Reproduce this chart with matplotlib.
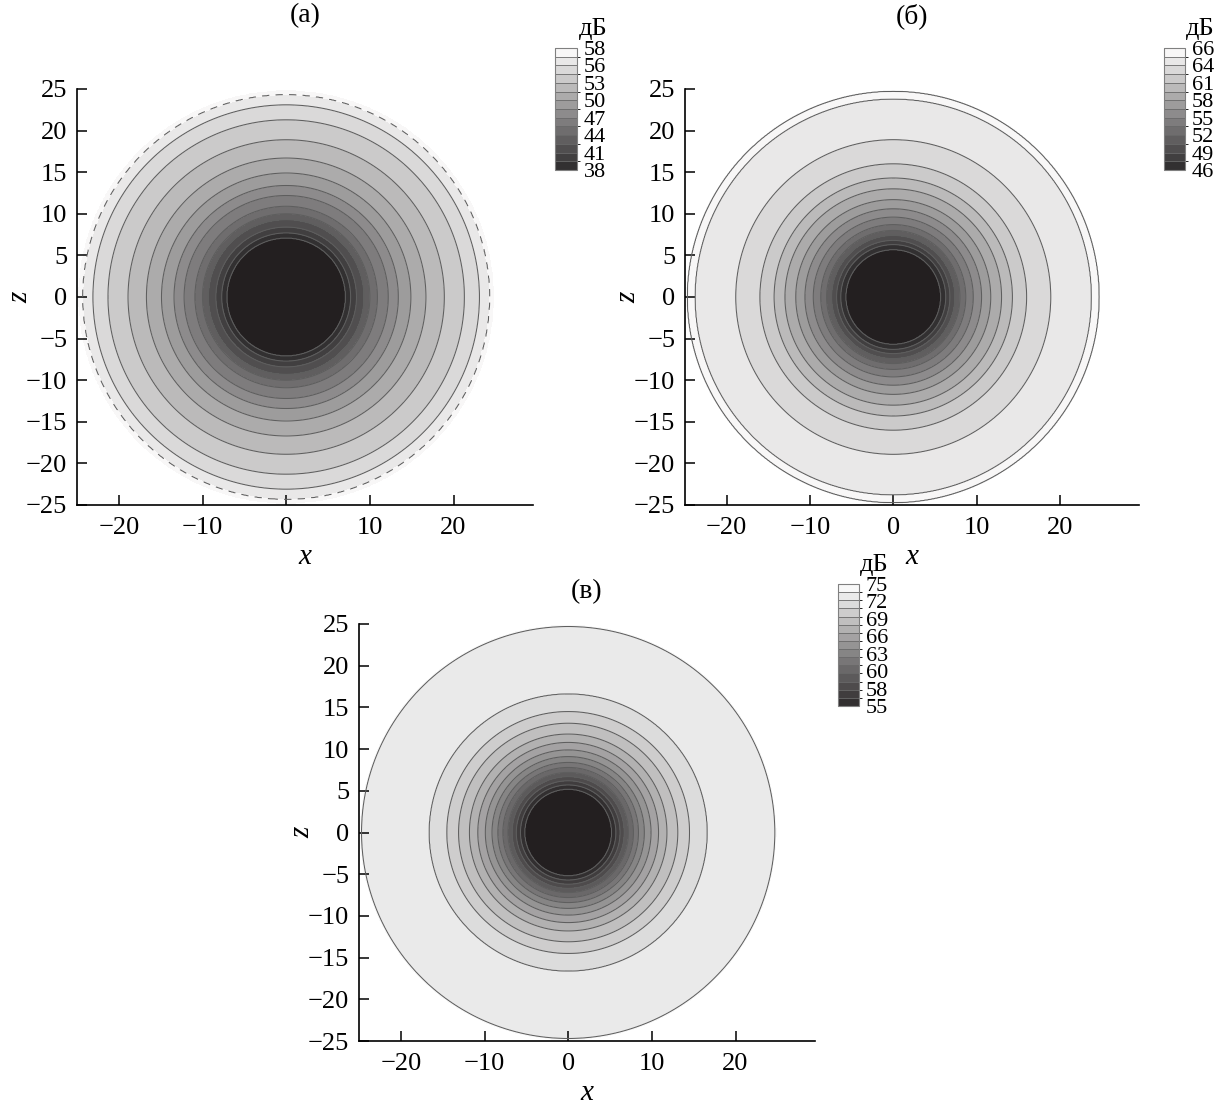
import numpy as np
import matplotlib
matplotlib.use("Agg")
import matplotlib.pyplot as plt
from matplotlib.colors import LinearSegmentedColormap, ListedColormap, BoundaryNorm
from matplotlib.cm import ScalarMappable

plt.rcParams["font.family"] = ["Liberation Serif", "DejaVu Serif"]

# radius at which each contour level is crossed, centre outward
radii_a = [7.1, 7.7, 8.4, 9.3, 10.0, 10.9, 12.2, 13.4, 14.9, 16.7, 18.9, 21.3, 23.1, 24.3]
radii_b = [5.7, 6.3, 6.8, 7.4, 8.0, 8.7, 9.6, 10.6, 11.7, 13.0, 14.3, 16.0, 18.9, 23.8, 24.7]
radii_c = [5.2, 5.7, 6.2, 6.7, 7.2, 7.8, 8.4, 9.1, 9.9, 10.8, 11.8, 13.1, 14.5, 16.6, 24.7]

# colour-scale ranges, dB
range_a = (38, 58)
range_b = (46, 66)
range_c = (55, 75)
n_levels = {"a": 15, "b": 15, "c": 16}
edge_r = {"a": 24.8, "b": 24.8, "c": 24.85}

cbar_labels_a = ["38", "41", "44", "47", "50", "53", "56", "58"]
cbar_labels_b = ["46", "49", "52", "55", "58", "61", "64", "66"]
cbar_labels_c = ["55", "58", "60", "63", "66", "69", "72", "75"]

titles = {"a": "(а)", "b": "(б)", "c": "(в)"}

W, H = 1226, 1105
fig = plt.figure(figsize=(W / 100, H / 100), dpi=100)

gray = LinearSegmentedColormap.from_list("g", ["#2b2829", "#ffffff"])

grid = np.linspace(-25.5, 25.5, 701)
X, Z = np.meshgrid(grid, grid)
R = np.hypot(X, Z)


def px_rect(left, top, right, bottom):
    return [left / W, 1 - bottom / H, (right - left) / W, (bottom - top) / H]


def panel(key, radii, vrange, labels, ax_px, cb_px, title_y):
    lo, hi = vrange
    n = n_levels[key]
    levels = np.linspace(lo, hi, n)
    step = levels[1] - levels[0]
    k = len(radii)
    rr = [0.0] + list(radii) + [30.0]
    vv = [lo - step] + list(levels[:k]) + [levels[k - 1] + 0.9 * step]
    V = np.interp(R, rr, vv)
    V = np.ma.masked_where(R > edge_r[key], V)

    nb = n - 1
    cols = [gray((i + 0.5) / nb) for i in range(nb)]
    cmap = ListedColormap(cols)
    cmap.set_under("#231f20")
    cmap.set_over("#f6f6f6")
    norm = BoundaryNorm(levels, nb)

    ax = fig.add_axes(px_rect(*ax_px))
    ax.contourf(X, Z, V, levels=levels, cmap=cmap, norm=norm, extend="both")
    styles = ["solid"] * n
    if key == "a":
        styles[k - 1] = (0, (7, 6))
    ax.contour(X, Z, V, levels=levels, colors="#5e5e5e", linewidths=0.75,
               linestyles=styles)

    ax.set_xlim(-25, 29.5)
    ax.set_ylim(-25, 25)
    ax.set_xticks([-20, -10, 0, 10, 20])
    ax.set_yticks(np.arange(-25, 26, 5))
    for s in ["top", "right"]:
        ax.spines[s].set_visible(False)
    for s in ["left", "bottom"]:
        ax.spines[s].set_linewidth(1.2)
    ax.tick_params(direction="in", length=7, width=1.1, labelsize=19)
    ax.tick_params(axis="x", pad=9)
    ax.tick_params(axis="y", pad=7)
    ax.set_xlabel("x", fontsize=21, style="italic", va="center")
    ax.set_ylabel("z", fontsize=21, style="italic", va="center")
    ax.xaxis.set_label_coords(0.5, -0.125)
    ax.yaxis.set_label_coords(-0.125, 0.5)

    left, top, right, bottom = ax_px
    fig.text((left + right) / 2 / W, 1 - title_y / H, titles[key],
             fontsize=20, ha="center", va="center")

    cax = fig.add_axes(px_rect(*cb_px))
    sm = ScalarMappable(norm=norm, cmap=cmap)
    cb = fig.colorbar(sm, cax=cax, extend="neither",
                      ticks=np.linspace(lo, hi, len(labels)))
    cb.set_ticklabels(labels)
    cb.ax.tick_params(length=0, labelsize=16, pad=5)
    cb.outline.set_edgecolor("#808080")
    cb.outline.set_linewidth(0.8)
    cb.add_lines(levels, ["#6a6a6a"] * n, [0.6] * n)
    cax.text(1.72, 1.107, "дБ", transform=cax.transAxes, fontsize=19,
             ha="center", va="baseline")
    return ax


panel("a", radii_a, range_a, cbar_labels_a, (77, 89, 533, 505), (555, 48, 577, 170), 16)
panel("b", radii_b, range_b, cbar_labels_b, (685, 89, 1139, 505), (1164, 48, 1185, 170), 16)
panel("c", radii_c, range_c, cbar_labels_c, (359, 624, 815, 1041), (838, 584, 859, 706), 592)

fig.savefig("out.png", dpi=100)
